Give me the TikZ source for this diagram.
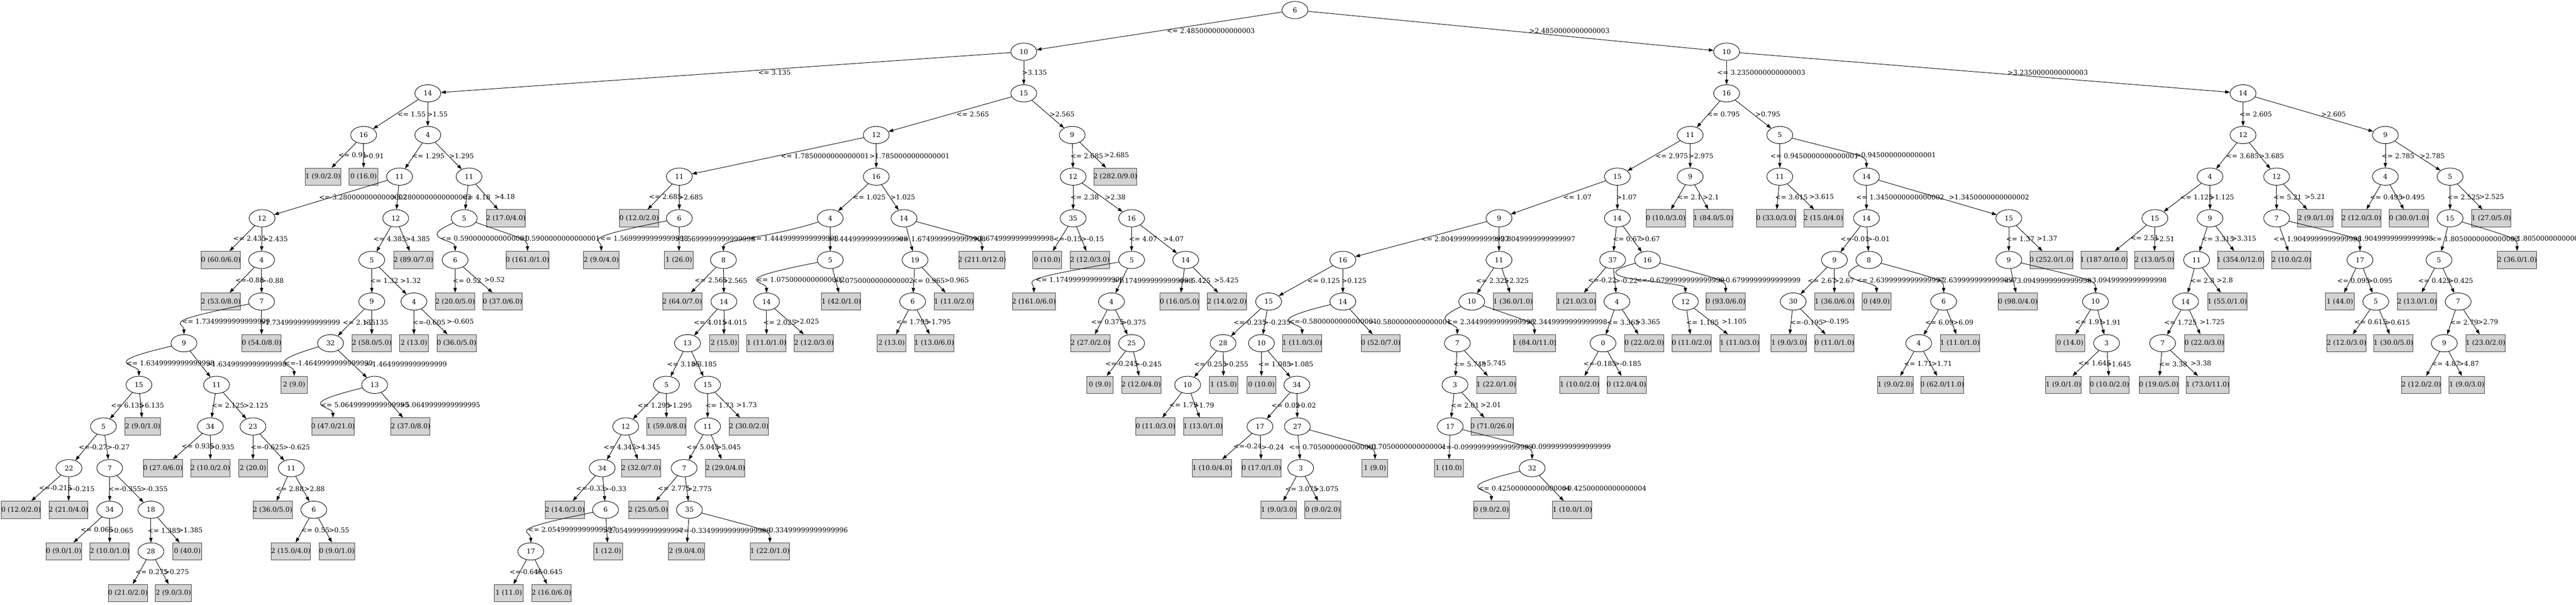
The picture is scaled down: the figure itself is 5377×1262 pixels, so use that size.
\documentclass[tikz,border=0pt]{standalone}
\usepackage{fontspec}
\setmainfont{DejaVu Serif}
\usepackage{tikz}
\usetikzlibrary{arrows.meta,shapes.geometric,calc}
\definecolor{leafgray}{HTML}{D3D3D3}
\newsavebox\leafbox
\newlength\leafwd

\begin{document}
\begin{tikzpicture}[->,>={Triangle[length=10pt,width=7pt]},line width=1pt,
                    node distance=86.9pt,x=1pt,y=-1pt,
                    every node/.style={font=\fontsize{14}{17}\selectfont},
                    swing/.style={to path={.. controls ($(\tikztostart)+(#1,43.5)$) and ($(\tikztotarget)+(0,-43.5)$) .. (\tikztotarget) \tikztonodes}}]
  \tikzstyle{split}=[ellipse,draw=black,minimum width=54pt,minimum height=36pt,inner sep=0pt]
  \tikzstyle{leaf}=[rectangle,draw=black!75,fill=leafgray,minimum width=54pt,minimum height=36pt,inner xsep=8pt,
                    execute at begin node={\begin{lrbox}{\leafbox}},
                    execute at end node={\end{lrbox}\leafwd=0.797\wd\leafbox\makebox[\leafwd][c]{\usebox\leafbox}}]
  \tikzstyle{cond}=[anchor=west,inner sep=0pt]

  \useasboundingbox (0,0) rectangle (5377,1262);

  \node[split] (r)   at (2703,21)                 {6};
  \node[split] (A)   [below of=r,   xshift=-566pt] {10};
  \node[split] (B)   [below of=r,   xshift=901pt]  {10};

  % A, left
  \node[split] (a1)  [below of=A,   xshift=-1244pt] {14};
  \node[split] (a2)  [below of=a1,  xshift=-134pt]  {16};
  \node[split] (a3)  [below of=a1]                  {4};
  \node[leaf]  (a4)  [below of=a2,  xshift=-85pt]   {1 (9.0/2.0)};
  \node[leaf]  (a5)  [below of=a2]                  {0 (16.0)};
  \node[split] (a6)  [below of=a3,  xshift=-59pt]   {11};
  \node[split] (a7)  [below of=a3,  xshift=86pt]    {11};
  \node[split] (a8)  [below of=a6,  xshift=-287pt]  {12};
  \node[split] (a9)  [below of=a6,  xshift=-8pt]    {12};
  \node[split] (a10) [below of=a7,  xshift=-10pt]   {5};
  \node[leaf]  (a11) [below of=a7,  xshift=77pt]    {2 (17.0/4.0)};
  \node[leaf]  (a12) [below of=a8,  xshift=-86pt]   {0 (60.0/6.0)};
  \node[split] (a13) [below of=a8,  xshift=-1pt]    {4};
  \node[split] (a14) [below of=a9,  xshift=-50pt]   {5};
  \node[leaf]  (a15) [below of=a9,  xshift=37pt]    {2 (89.0/7.0)};
  \node[split] (a16) [below of=a10, xshift=-19pt]   {6};
  \node[leaf]  (a17) [below of=a10, xshift=132pt]   {0 (161.0/1.0)};
  \node[leaf]  (a18) [below of=a13, xshift=-85pt]   {2 (53.0/8.0)};
  \node[split] (a19) [below of=a13]                 {7};
  \node[split] (a20) [below of=a14]                 {9};
  \node[split] (a21) [below of=a14, xshift=88pt]    {4};
  \node[leaf]  (a22) [below of=a16]                 {2 (20.0/5.0)};
  \node[leaf]  (a23) [below of=a16, xshift=99pt]    {0 (37.0/6.0)};
  \node[split] (a24) [below of=a19, xshift=-162pt]  {9};
  \node[leaf]  (a25) [below of=a19]                 {0 (54.0/8.0)};
  \node[split] (a26) [below of=a20, xshift=-86pt]   {32};
  \node[leaf]  (a27) [below of=a20]                 {2 (58.0/5.0)};
  \node[leaf]  (a28) [below of=a21]                 {2 (13.0)};
  \node[leaf]  (a29) [below of=a21, xshift=89pt]    {0 (36.0/5.0)};
  \node[split] (a30) [below of=a24, xshift=-94pt]   {15};
  \node[split] (a31) [below of=a24, xshift=68pt]    {11};
  \node[leaf]  (a32) [below of=a26, xshift=-76pt]   {2 (9.0)};
  \node[split] (a33) [below of=a26, xshift=92pt]    {13};
  \node[split] (a34) [below of=a30, xshift=-74pt]   {5};
  \node[leaf]  (a35) [below of=a30, xshift=8pt]     {2 (9.0/1.0)};
  \node[split] (a36) [below of=a31, xshift=-13pt]   {34};
  \node[split] (a37) [below of=a31, xshift=76pt]    {23};
  \node[leaf]  (a38) [below of=a33, xshift=-87pt]   {0 (47.0/21.0)};
  \node[leaf]  (a39) [below of=a33, xshift=75pt]    {2 (37.0/8.0)};
  \node[split] (a40) [below of=a34, xshift=-72pt]   {22};
  \node[split] (a41) [below of=a34, xshift=13pt]    {7};
  \node[leaf]  (a42) [below of=a36, xshift=-99pt]   {0 (27.0/6.0)};
  \node[leaf]  (a43) [below of=a36]                 {2 (10.0/2.0)};
  \node[leaf]  (a44) [below of=a37]                 {2 (20.0)};
  \node[split] (a45) [below of=a37, xshift=80pt]    {11};
  \node[leaf]  (a46) [below of=a40, xshift=-100pt]  {0 (12.0/2.0)};
  \node[leaf]  (a47) [below of=a40, xshift=-1pt]    {2 (21.0/4.0)};
  \node[split] (a48) [below of=a41]                 {34};
  \node[split] (a49) [below of=a41, xshift=86pt]    {18};
  \node[leaf]  (a50) [below of=a45, xshift=-39pt]   {2 (36.0/5.0)};
  \node[split] (a51) [below of=a45, xshift=47pt]    {6};
  \node[leaf]  (a52) [below of=a48, xshift=-96pt]   {0 (9.0/1.0)};
  \node[leaf]  (a53) [below of=a48]                 {2 (10.0/1.0)};
  \node[split] (a54) [below of=a49]                 {28};
  \node[leaf]  (a55) [below of=a49, xshift=76pt]    {0 (40.0)};
  \node[leaf]  (a56) [below of=a51, xshift=-48pt]   {2 (15.0/4.0)};
  \node[leaf]  (a57) [below of=a51, xshift=48pt]    {0 (9.0/1.0)};
  \node[leaf]  (a58) [below of=a54, xshift=-48pt]   {0 (21.0/2.0)};
  \node[leaf]  (a59) [below of=a54, xshift=47pt]    {2 (9.0/3.0)};

  % A, right
  \node[split] (b1)  [below of=A]                   {15};
  \node[split] (b2)  [below of=b1,  xshift=-308pt]  {12};
  \node[split] (b3)  [below of=b1,  xshift=101pt]   {9};
  \node[split] (b4)  [below of=b2,  xshift=-411pt]  {11};
  \node[split] (b5)  [below of=b2]                  {16};
  \node[split] (b6)  [below of=b3,  xshift=2pt]     {12};
  \node[leaf]  (b7)  [below of=b3,  xshift=90pt]    {2 (282.0/9.0)};
  \node[leaf]  (b8)  [below of=b4,  xshift=-84pt]   {0 (12.0/2.0)};
  \node[split] (b9)  [below of=b4]                  {6};
  \node[split] (b10) [below of=b5,  xshift=-96pt]   {4};
  \node[split] (b11) [below of=b5,  xshift=58pt]    {14};
  \node[split] (b12) [below of=b6]                  {35};
  \node[split] (b13) [below of=b6,  xshift=122pt]   {16};
  \node[leaf]  (b14) [below of=b9,  xshift=-163pt]  {2 (9.0/4.0)};
  \node[leaf]  (b15) [below of=b9,  xshift=-1pt]    {1 (26.0)};
  \node[split] (b16) [below of=b10, xshift=-223pt]  {8};
  \node[split] (b17) [below of=b10]                 {5};
  \node[split] (b18) [below of=b11, xshift=23pt]    {19};
  \node[leaf]  (b19) [below of=b11, xshift=163pt]   {2 (211.0/12.0)};
  \node[leaf]  (b20) [below of=b12, xshift=-54pt]   {0 (10.0)};
  \node[leaf]  (b21) [below of=b12, xshift=35pt]    {2 (12.0/3.0)};
  \node[split] (b22) [below of=b13]                 {5};
  \node[split] (b23) [below of=b13, xshift=113pt]   {14};
  \node[leaf]  (b24) [below of=b16, xshift=-86pt]   {2 (64.0/7.0)};
  \node[split] (b25) [below of=b16, xshift=1pt]     {14};
  \node[split] (b26) [below of=b17, xshift=-133pt]  {14};
  \node[leaf]  (b27) [below of=b17, xshift=23pt]    {1 (42.0/1.0)};
  \node[split] (b28) [below of=b18, xshift=-5pt]    {6};
  \node[leaf]  (b29) [below of=b18, xshift=81pt]    {1 (11.0/2.0)};
  \node[leaf]  (b30) [below of=b22, xshift=-204pt]  {2 (161.0/6.0)};
  \node[split] (b31) [below of=b22, xshift=-42pt]   {4};
  \node[leaf]  (b32) [below of=b23, xshift=-13pt]   {0 (16.0/5.0)};
  \node[leaf]  (b33) [below of=b23, xshift=86pt]    {2 (14.0/2.0)};
  \node[split] (b34) [below of=b25, xshift=-76pt]   {13};
  \node[leaf]  (b35) [below of=b25]                 {2 (15.0)};
  \node[leaf]  (b36) [below of=b26]                 {1 (11.0/1.0)};
  \node[leaf]  (b37) [below of=b26, xshift=99pt]    {2 (12.0/3.0)};
  \node[leaf]  (b38) [below of=b28, xshift=-44pt]   {2 (13.0)};
  \node[leaf]  (b39) [below of=b28, xshift=45pt]    {1 (13.0/6.0)};
  \node[leaf]  (b40) [below of=b31, xshift=-44pt]   {2 (27.0/2.0)};
  \node[split] (b41) [below of=b31, xshift=42pt]    {25};
  \node[split] (b42) [below of=b34, xshift=-44pt]   {5};
  \node[split] (b43) [below of=b34, xshift=42pt]    {15};
  \node[leaf]  (b44) [below of=b41, xshift=-66pt]   {0 (9.0)};
  \node[leaf]  (b45) [below of=b41, xshift=20pt]    {2 (12.0/4.0)};
  \node[split] (b46) [below of=b42, xshift=-85pt]   {12};
  \node[leaf]  (b47) [below of=b42]                 {1 (59.0/8.0)};
  \node[split] (b48) [below of=b43]                 {11};
  \node[leaf]  (b49) [below of=b43, xshift=86pt]    {2 (30.0/2.0)};
  \node[split] (b50) [below of=b46, xshift=-49pt]   {34};
  \node[leaf]  (b51) [below of=b46, xshift=32pt]    {2 (32.0/7.0)};
  \node[split] (b52) [below of=b48, xshift=-49pt]   {7};
  \node[leaf]  (b53) [below of=b48, xshift=37pt]    {2 (29.0/4.0)};
  \node[leaf]  (b54) [below of=b50, xshift=-78pt]   {2 (14.0/3.0)};
  \node[split] (b55) [below of=b50, xshift=7pt]     {6};
  \node[leaf]  (b56) [below of=b52, xshift=-75pt]   {2 (25.0/5.0)};
  \node[split] (b57) [below of=b52, xshift=11pt]    {35};
  \node[split] (b58) [below of=b55, xshift=-156pt]  {17};
  \node[leaf]  (b59) [below of=b55, xshift=5pt]     {1 (12.0)};
  \node[leaf]  (b60) [below of=b57, xshift=-6pt]    {2 (9.0/4.0)};
  \node[leaf]  (b61) [below of=b57, xshift=168pt]   {1 (22.0/1.0)};
  \node[leaf]  (b62) [below of=b58, xshift=-46pt]   {1 (11.0)};
  \node[leaf]  (b63) [below of=b58, xshift=43pt]    {2 (16.0/6.0)};

  % B, left
  \node[split] (c1)  [below of=B]                   {16};
  \node[split] (c2)  [below of=c1,  xshift=-76pt]   {11};
  \node[split] (c3)  [below of=c1,  xshift=111pt]   {5};
  \node[split] (c4)  [below of=c2,  xshift=-152pt]  {15};
  \node[split] (c5)  [below of=c2]                  {9};
  \node[split] (c6)  [below of=c3]                  {11};
  \node[split] (c7)  [below of=c3,  xshift=181pt]   {14};
  \node[split] (c8)  [below of=c4,  xshift=-247pt]  {9};
  \node[split] (c9)  [below of=c4]                  {14};
  \node[leaf]  (c10) [below of=c5,  xshift=-51pt]   {0 (10.0/3.0)};
  \node[leaf]  (c11) [below of=c5,  xshift=48pt]    {1 (84.0/5.0)};
  \node[leaf]  (c12) [below of=c6,  xshift=-8pt]    {0 (33.0/3.0)};
  \node[leaf]  (c13) [below of=c6,  xshift=91pt]    {2 (15.0/4.0)};
  \node[split] (c14) [below of=c7]                  {14};
  \node[split] (c15) [below of=c7,  xshift=297pt]   {15};
  \node[split] (c16) [below of=c8,  xshift=-326pt]  {16};
  \node[split] (c17) [below of=c8]                  {11};
  \node[split] (c18) [below of=c9,  xshift=-10pt]   {37};
  \node[split] (c19) [below of=c9,  xshift=63pt]    {16};
  \node[split] (c20) [below of=c14, xshift=-67pt]   {9};
  \node[split] (c21) [below of=c14, xshift=5pt]     {8};
  \node[split] (c22) [below of=c15]                 {9};
  \node[leaf]  (c23) [below of=c15, xshift=89pt]    {0 (252.0/1.0)};
  \node[split] (c24) [below of=c16, xshift=-155pt]  {15};
  \node[split] (c25) [below of=c16]                 {14};
  \node[split] (c26) [below of=c17, xshift=-57pt]   {10};
  \node[leaf]  (c27) [below of=c17, xshift=29pt]    {1 (36.0/1.0)};
  \node[leaf]  (c28) [below of=c18, xshift=-76pt]   {1 (21.0/3.0)};
  \node[split] (c29) [below of=c18, xshift=9pt]     {4};
  \node[split] (c30) [below of=c19, xshift=79pt]    {12};
  \node[leaf]  (c31) [below of=c19, xshift=163pt]   {0 (93.0/6.0)};
  \node[split] (c32) [below of=c20, xshift=-86pt]   {30};
  \node[leaf]  (c33) [below of=c20]                 {1 (36.0/6.0)};
  \node[leaf]  (c34) [below of=c21, xshift=16pt]    {0 (49.0)};
  \node[split] (c35) [below of=c21, xshift=156pt]   {6};
  \node[leaf]  (c36) [below of=c22, xshift=19pt]    {0 (98.0/4.0)};
  \node[split] (c37) [below of=c22, xshift=181pt]   {10};
  \node[split] (c38) [below of=c24, xshift=-95pt]   {28};
  \node[split] (c39) [below of=c24, xshift=-15pt]   {10};
  \node[leaf]  (c40) [below of=c25, xshift=-85pt]   {1 (11.0/3.0)};
  \node[leaf]  (c41) [below of=c25, xshift=79pt]    {0 (52.0/7.0)};
  \node[split] (c42) [below of=c26, xshift=-30pt]   {7};
  \node[leaf]  (c43) [below of=c26, xshift=131pt]   {1 (84.0/11.0)};
  \node[split] (c44) [below of=c29, xshift=-29pt]   {0};
  \node[leaf]  (c45) [below of=c29, xshift=57pt]    {0 (22.0/2.0)};
  \node[leaf]  (c46) [below of=c30, xshift=13pt]    {0 (11.0/2.0)};
  \node[leaf]  (c47) [below of=c30, xshift=113pt]   {1 (11.0/3.0)};
  \node[leaf]  (c48) [below of=c32, xshift=-9pt]    {1 (9.0/3.0)};
  \node[leaf]  (c49) [below of=c32, xshift=86pt]    {0 (11.0/1.0)};
  \node[split] (c50) [below of=c35, xshift=-52pt]   {4};
  \node[leaf]  (c51) [below of=c35, xshift=34pt]    {1 (11.0/1.0)};
  \node[leaf]  (c52) [below of=c37, xshift=-53pt]   {0 (14.0)};
  \node[split] (c53) [below of=c37, xshift=23pt]    {3};
  \node[split] (c54) [below of=c38, xshift=-74pt]   {10};
  \node[leaf]  (c55) [below of=c38, xshift=1pt]     {1 (15.0)};
  \node[leaf]  (c56) [below of=c39]                 {0 (10.0)};
  \node[split] (c57) [below of=c39, xshift=74pt]    {34};
  \node[split] (c58) [below of=c42, xshift=-5pt]    {3};
  \node[leaf]  (c59) [below of=c42, xshift=81pt]    {1 (22.0/1.0)};
  \node[leaf]  (c60) [below of=c44, xshift=-49pt]   {1 (10.0/2.0)};
  \node[leaf]  (c61) [below of=c44, xshift=49pt]    {0 (12.0/4.0)};
  \node[leaf]  (c62) [below of=c50, xshift=-49pt]   {1 (9.0/2.0)};
  \node[leaf]  (c63) [below of=c50, xshift=49pt]    {0 (62.0/11.0)};
  \node[leaf]  (c64) [below of=c53, xshift=-90pt]   {1 (9.0/1.0)};
  \node[leaf]  (c65) [below of=c53, xshift=6pt]     {0 (10.0/2.0)};
  \node[leaf]  (c66) [below of=c54, xshift=-67pt]   {0 (11.0/3.0)};
  \node[leaf]  (c67) [below of=c54, xshift=32pt]    {1 (13.0/1.0)};
  \node[split] (c68) [below of=c57, xshift=-77pt]   {17};
  \node[split] (c69) [below of=c57, xshift=1pt]     {27};
  \node[split] (c70) [below of=c58, xshift=-10pt]   {17};
  \node[leaf]  (c71) [below of=c58, xshift=78pt]    {0 (71.0/26.0)};
  \node[leaf]  (c72) [below of=c68, xshift=-100pt]  {1 (10.0/4.0)};
  \node[leaf]  (c73) [below of=c68, xshift=3pt]     {0 (17.0/1.0)};
  \node[split] (c74) [below of=c69, xshift=7pt]     {3};
  \node[leaf]  (c75) [below of=c69, xshift=162pt]   {1 (9.0)};
  \node[leaf]  (c76) [below of=c70, xshift=-3pt]    {1 (10.0)};
  \node[split] (c77) [below of=c70, xshift=171pt]   {32};
  \node[leaf]  (c78) [below of=c74, xshift=-46pt]   {1 (9.0/3.0)};
  \node[leaf]  (c79) [below of=c74, xshift=46pt]    {0 (9.0/2.0)};
  \node[leaf]  (c80) [below of=c77, xshift=-85pt]   {0 (9.0/2.0)};
  \node[leaf]  (c81) [below of=c77, xshift=84pt]    {1 (10.0/1.0)};

  % B, right
  \node[split] (d1)  [below of=B,   xshift=1078pt]  {14};
  \node[split] (d2)  [below of=d1]                  {12};
  \node[split] (d3)  [below of=d1,  xshift=297pt]   {9};
  \node[split] (d4)  [below of=d2,  xshift=-69pt]   {4};
  \node[split] (d5)  [below of=d2,  xshift=70pt]    {12};
  \node[split] (d6)  [below of=d3]                  {4};
  \node[split] (d7)  [below of=d3,  xshift=135pt]   {5};
  \node[split] (d8)  [below of=d4,  xshift=-115pt]  {15};
  \node[split] (d9)  [below of=d4]                  {9};
  \node[split] (d10) [below of=d5]                  {7};
  \node[leaf]  (d11) [below of=d5,  xshift=81pt]    {2 (9.0/1.0)};
  \node[leaf]  (d12) [below of=d6,  xshift=-50pt]   {2 (12.0/3.0)};
  \node[leaf]  (d13) [below of=d6,  xshift=49pt]    {0 (30.0/1.0)};
  \node[split] (d14) [below of=d7]                  {15};
  \node[leaf]  (d15) [below of=d7,  xshift=86pt]    {1 (27.0/5.0)};
  \node[leaf]  (d16) [below of=d8,  xshift=-106pt]  {1 (187.0/10.0)};
  \node[leaf]  (d17) [below of=d8,  xshift=-1pt]    {2 (13.0/5.0)};
  \node[split] (d18) [below of=d9,  xshift=-28pt]   {11};
  \node[leaf]  (d19) [below of=d9,  xshift=64pt]    {1 (354.0/12.0)};
  \node[leaf]  (d20) [below of=d10, xshift=31pt]    {2 (10.0/2.0)};
  \node[split] (d21) [below of=d10, xshift=174pt]   {17};
  \node[split] (d22) [below of=d14, xshift=-23pt]   {5};
  \node[leaf]  (d23) [below of=d14, xshift=140pt]   {2 (36.0/1.0)};
  \node[split] (d24) [below of=d18, xshift=-23pt]   {14};
  \node[leaf]  (d25) [below of=d18, xshift=64pt]    {1 (55.0/1.0)};
  \node[leaf]  (d26) [below of=d21, xshift=-42pt]   {1 (44.0)};
  \node[split] (d27) [below of=d21, xshift=33pt]    {5};
  \node[leaf]  (d28) [below of=d22, xshift=-46pt]   {2 (13.0/1.0)};
  \node[split] (d29) [below of=d22, xshift=40pt]    {7};
  \node[split] (d30) [below of=d24, xshift=-48pt]   {7};
  \node[leaf]  (d31) [below of=d24, xshift=39pt]    {0 (22.0/3.0)};
  \node[leaf]  (d32) [below of=d27, xshift=-61pt]   {2 (12.0/3.0)};
  \node[leaf]  (d33) [below of=d27, xshift=37pt]    {1 (30.0/5.0)};
  \node[split] (d34) [below of=d29, xshift=-29pt]   {9};
  \node[leaf]  (d35) [below of=d29, xshift=57pt]    {1 (23.0/2.0)};
  \node[leaf]  (d36) [below of=d30, xshift=-8pt]    {0 (19.0/5.0)};
  \node[leaf]  (d37) [below of=d30, xshift=94pt]    {1 (73.0/11.0)};
  \node[leaf]  (d38) [below of=d34, xshift=-48pt]   {2 (12.0/2.0)};
  \node[leaf]  (d39) [below of=d34, xshift=47pt]    {1 (9.0/3.0)};

  \path (r)   edge node[cond,xshift=15pt]  {<= 2.4850000000000003} (A)
              edge node[cond,xshift=38pt]  {>2.4850000000000003}   (B)
        (A)   edge node[cond,xshift=67pt]  {<= 3.135}              (a1)
              edge node[cond,xshift=-4pt]  {>3.135}                (b1)
        (B)   edge node[cond,xshift=-20pt] {<= 3.2350000000000003} (c1)
              edge node[cond,xshift=47pt]  {>3.2350000000000003}   (d1)
        (a1)  edge node[cond,xshift=3pt]   {<= 1.55}               (a2)
              edge node[cond,xshift=-2pt]  {>1.55}                 (a3)
        (a2)  edge node[cond,xshift=-12pt] {<= 0.91}               (a4)
              edge node[cond,xshift=-1pt]  {>0.91}                 (a5)
        (a3)  edge node[cond,xshift=-4pt]  {<= 1.295}              (a6)
              edge node[cond,xshift=1pt]   {>1.295}                (a7)
        (a6)  edge node[cond,xshift=-25pt] {<= 3.2800000000000002} (a8)
              edge node[cond,xshift=-14pt] {>3.2800000000000002}   (a9)
        (a7)  edge node[cond,xshift=-10pt] {<= 4.18}               (a10)
              edge node[cond,xshift=15pt]  {>4.18}                 (a11)
        (a8)  edge node[cond,xshift=-19pt] {<= 2.435}              (a12)
              edge node[cond,xshift=2pt]   {>2.435}                (a13)
        (a9)  edge node[cond,xshift=-22pt] {<= 4.385}              (a14)
              edge node[cond,xshift=1pt]   {>4.385}                (a15)
        (a10) edge[swing=-101] node[cond]  {<= 0.5900000000000001} (a16)
              edge[swing=123]  node[cond]  {>0.5900000000000001}   (a17)
        (a13) edge node[cond,xshift=-14pt] {<=-0.88}               (a18)
              edge node[cond,xshift=-2pt]  {>-0.88}                (a19)
        (a14) edge node[cond,xshift=-4pt]  {<= 1.32}               (a20)
              edge node[cond,xshift=15pt]  {>1.32}                 (a21)
        (a16) edge node[cond,xshift=-5pt]  {<= 0.52}               (a22)
              edge node[cond,xshift=13pt]  {>0.52}                 (a23)
        (a19) edge[swing=-219] node[cond]  {<= 1.7349999999999999} (a24)
              edge node[cond,xshift=-4pt]  {>1.7349999999999999}   (a25)
        (a20) edge node[cond,xshift=-18pt] {<= 2.135}              (a26)
              edge node[cond,xshift=-18pt] {>2.135}                (a27)
        (a21) edge node[cond,xshift=-3pt]  {<=-0.605}              (a28)
              edge node[cond,xshift=25pt]  {>-0.605}               (a29)
        (a24) edge[swing=-187] node[cond]  {<= 1.6349999999999998} (a30)
              edge node[cond,xshift=12pt]  {>1.6349999999999998}   (a31)
        (a26) edge[swing=-147] node[cond]  {<=-1.4649999999999999} (a32)
              edge node[cond,xshift=24pt]  {>-1.4649999999999999}  (a33)
        (a30) edge node[cond,xshift=-22pt] {<= 6.135}              (a34)
              edge node[cond,xshift=-4pt]  {>6.135}                (a35)
        (a31) edge node[cond,xshift=-4pt]  {<= 2.125}              (a36)
              edge node[cond,xshift=18pt]  {>2.125}                (a37)
        (a33) edge[swing=-176] node[cond]  {<= 5.0649999999999995} (a38)
              edge node[cond,xshift=16pt]  {>5.0649999999999995}   (a39)
        (a34) edge node[cond,xshift=-16pt] {<=-0.27}               (a40)
              edge node[cond]              {>-0.27}                (a41)
        (a36) edge node[cond,xshift=-13pt] {<= 0.935}              (a42)
              edge node[cond,xshift=-2pt]  {>0.935}                (a43)
        (a37) edge node[cond,xshift=-5pt]  {<=-0.625}              (a44)
              edge node[cond,xshift=22pt]  {>-0.625}               (a45)
        (a40) edge node[cond,xshift=-15pt] {<=-0.215}              (a46)
              edge node[cond,xshift=-3pt]  {>-0.215}               (a47)
        (a41) edge node[cond,xshift=-3pt]  {<=-0.355}              (a48)
              edge node[cond,xshift=21pt]  {>-0.355}               (a49)
        (a45) edge node[cond,xshift=-14pt] {<= 2.88}               (a50)
              edge node[cond,xshift=3pt]   {>2.88}                 (a51)
        (a48) edge node[cond,xshift=-15pt] {<= 0.065}              (a52)
              edge node[cond,xshift=-3pt]  {>0.065}                (a53)
        (a49) edge node[cond,xshift=-7pt]  {<= 1.385}              (a54)
              edge node[cond,xshift=19pt]  {>1.385}                (a55)
        (a51) edge node[cond,xshift=-3pt]  {<= 0.55}               (a56)
              edge node[cond,xshift=7pt]   {>0.55}                 (a57)
        (a54) edge node[cond,xshift=-9pt]  {<= 0.275}              (a58)
              edge node[cond,xshift=4pt]   {>0.275}                (a59)
        (b1)  edge node[cond,xshift=13pt]  {<= 2.565}              (b2)
              edge node[cond,xshift=3pt]   {>2.565}                (b3)
        (b2)  edge node[cond,xshift=6pt]   {<= 1.7850000000000001} (b4)
              edge node[cond,xshift=-15pt] {>1.7850000000000001}   (b5)
        (b3)  edge node[cond,xshift=-5pt]  {<= 2.685}              (b6)
              edge node[cond,xshift=23pt]  {>2.685}                (b7)
        (b4)  edge node[cond,xshift=-23pt] {<= 2.685}              (b8)
              edge node[cond,xshift=-3pt]  {>2.685}                (b9)
        (b5)  edge node[cond,xshift=-1pt]  {<= 1.025}              (b10)
              edge node[cond]              {>1.025}                (b11)
        (b6)  edge node[cond,xshift=-6pt]  {<= 2.38}               (b12)
              edge node[cond,xshift=5pt]   {>2.38}                 (b13)
        (b9)  edge[swing=-216] node[cond]  {<= 1.5699999999999998} (b14)
              edge node[cond,xshift=-9pt]  {>1.5699999999999998}   (b15)
        (b10) edge[swing=-139] node[cond]  {<= 1.4449999999999998} (b16)
              edge node[cond,xshift=-6pt]  {>1.4449999999999998}   (b17)
        (b11) edge node[cond,xshift=-25pt] {<= 1.6749999999999998} (b18)
              edge[swing=160]  node[cond]  {>1.6749999999999998}   (b19)
        (b12) edge node[cond,xshift=-15pt] {<=-0.15}               (b20)
              edge node[cond,xshift=-1pt]  {>-0.15}                (b21)
        (b13) edge node[cond,xshift=-6pt]  {<= 4.07}               (b22)
              edge node[cond,xshift=9pt]   {>4.07}                 (b23)
        (b16) edge node[cond,xshift=-19pt] {<= 2.565}              (b24)
              edge node[cond,xshift=-3pt]  {>2.565}                (b25)
        (b17) edge[swing=-224] node[cond]  {<= 1.0750000000000002} (b26)
              edge node[cond,xshift=-6pt]  {>1.0750000000000002}   (b27)
        (b18) edge node[cond,xshift=-4pt]  {<= 0.965}              (b28)
              edge node[cond,xshift=21pt]  {>0.965}                (b29)
        (b22) edge[swing=-253] node[cond]  {<= 1.1749999999999998} (b30)
              edge node[cond,xshift=-19pt] {>1.1749999999999998}   (b31)
        (b23) edge node[cond,xshift=-10pt] {<= 5.425}              (b32)
              edge node[cond,xshift=17pt]  {>5.425}                (b33)
        (b25) edge node[cond,xshift=-25pt] {<= 4.015}              (b34)
              edge node[cond,xshift=-4pt]  {>4.015}                (b35)
        (b26) edge node[cond,xshift=-7pt]  {<= 2.025}              (b36)
              edge node[cond,xshift=10pt]  {>2.025}                (b37)
        (b28) edge node[cond,xshift=-13pt] {<= 1.795}              (b38)
              edge node[cond,xshift=5pt]   {>1.795}                (b39)
        (b31) edge node[cond,xshift=-21pt] {<= 0.375}              (b40)
              edge node[cond,xshift=-1pt]  {>0.375}                (b41)
        (b34) edge node[cond,xshift=-21pt] {<= 3.185}              (b42)
              edge node[cond,xshift=-12pt] {>3.185}                (b43)
        (b41) edge node[cond,xshift=-23pt] {<=-0.245}              (b44)
              edge node[cond,xshift=-4pt]  {>-0.245}               (b45)
        (b42) edge node[cond,xshift=-18pt] {<= 1.295}              (b46)
              edge node[cond,xshift=1pt]   {>1.295}                (b47)
        (b43) edge node[cond,xshift=-5pt]  {<= 1.73}               (b48)
              edge node[cond,xshift=18pt]  {>1.73}                 (b49)
        (b46) edge node[cond,xshift=-22pt] {<= 4.345}              (b50)
              edge node[cond,xshift=4pt]   {>4.345}                (b51)
        (b48) edge node[cond,xshift=-20pt] {<= 5.045}              (b52)
              edge node[cond,xshift=-1pt]  {>5.045}                (b53)
        (b50) edge node[cond,xshift=-17pt] {<=-0.33}               (b54)
              edge node[cond,xshift=-1pt]  {>-0.33}                (b55)
        (b52) edge node[cond,xshift=-19pt] {<= 2.775}              (b56)
              edge node[cond]              {>2.775}                (b57)
        (b55) edge[swing=-216] node[cond]  {<= 2.0549999999999997} (b58)
              edge node[cond,xshift=-8pt]  {>2.0549999999999997}   (b59)
        (b57) edge node[cond,xshift=-21pt] {<=-0.33499999999999996} (b60)
              edge[swing=165]  node[cond]  {>-0.33499999999999996} (b61)
        (b58) edge node[cond,xshift=-22pt] {<=-0.645}              (b62)
              edge node[cond,xshift=-12pt] {>-0.645}               (b63)
        (c1)  edge node[cond,xshift=-3pt]  {<= 0.795}              (c2)
              edge node[cond,xshift=4pt]   {>0.795}                (c3)
        (c2)  edge node[cond,xshift=3pt]   {<= 2.975}              (c4)
              edge node[cond,xshift=-4pt]  {>2.975}                (c5)
        (c3)  edge node[cond,xshift=-20pt] {<= 0.9450000000000001} (c6)
              edge[swing=171]  node[cond]  {>0.9450000000000001}   (c7)
        (c4)  edge node[cond,xshift=10pt]  {<= 1.07}               (c8)
              edge node[cond,xshift=-3pt]  {>1.07}                 (c9)
        (c5)  edge node[cond,xshift=-2pt]  {<= 2.1}                (c10)
              edge node[cond,xshift=2pt]   {>2.1}                  (c11)
        (c6)  edge node[cond,xshift=-6pt]  {<= 3.615}              (c12)
              edge node[cond,xshift=17pt]  {>3.615}                (c13)
        (c7)  edge node[cond,xshift=-22pt] {<= 1.3450000000000002} (c14)
              edge node[cond,xshift=23pt]  {>1.3450000000000002}   (c15)
        (c8)  edge node[cond]              {<= 2.8049999999999997} (c16)
              edge node[cond,xshift=-9pt]  {>2.8049999999999997}   (c17)
        (c9)  edge node[cond,xshift=-5pt]  {<= 0.67}               (c18)
              edge node[cond,xshift=14pt]  {>0.67}                 (c19)
        (c14) edge node[cond,xshift=-21pt] {<=-0.01}               (c20)
              edge node[cond,xshift=-2pt]  {>-0.01}                (c21)
        (c15) edge node[cond,xshift=-6pt]  {<= 1.37}               (c22)
              edge node[cond,xshift=15pt]  {>1.37}                 (c23)
        (c16) edge node[cond,xshift=3pt]   {<= 0.125}              (c24)
              edge node[cond,xshift=-3pt]  {>0.125}                (c25)
        (c17) edge node[cond,xshift=-20pt] {<= 2.325}              (c26)
              edge node[cond,xshift=-5pt]  {>2.325}                (c27)
        (c18) edge node[cond,xshift=-15pt] {<=-0.22}               (c28)
              edge node[cond]              {>-0.22}                (c29)
        (c19) edge[swing=-160] node[cond]  {<=-0.6799999999999999} (c30)
              edge[swing=165]  node[cond]  {>-0.6799999999999999}  (c31)
        (c20) edge node[cond,xshift=-13pt] {<= 2.67}               (c32)
              edge node[cond,xshift=-2pt]  {>2.67}                 (c33)
        (c21) edge[swing=-85]  node[cond]  {<= 2.6399999999999997} (c34)
              edge[swing=160]  node[cond]  {>2.6399999999999997}   (c35)
        (c22) edge node[cond,xshift=-21pt] {<= 3.0949999999999998} (c36)
              edge[swing=181]  node[cond]  {>3.0949999999999998}   (c37)
        (c24) edge node[cond,xshift=-26pt] {<=-0.235}              (c38)
              edge node[cond,xshift=-4pt]  {>-0.235}               (c39)
        (c25) edge[swing=-179] node[cond]  {<=-0.5800000000000001} (c40)
              edge node[cond,xshift=15pt]  {>-0.5800000000000001}  (c41)
        (c26) edge[swing=-93]  node[cond]  {<= 2.3449999999999998} (c42)
              edge[swing=123]  node[cond]  {>2.3449999999999998}   (c43)
        (c29) edge node[cond,xshift=-7pt]  {<= 3.365}              (c44)
              edge node[cond,xshift=10pt]  {>3.365}                (c45)
        (c30) edge node[cond,xshift=-5pt]  {<= 1.105}              (c46)
              edge node[cond,xshift=22pt]  {>1.105}                (c47)
        (c32) edge node[cond,xshift=-2pt]  {<=-0.195}              (c48)
              edge node[cond,xshift=18pt]  {>-0.195}               (c49)
        (c35) edge node[cond,xshift=-13pt] {<= 6.09}               (c50)
              edge node[cond,xshift=2pt]   {>6.09}                 (c51)
        (c37) edge node[cond,xshift=-17pt] {<= 1.91}               (c52)
              edge node[cond,xshift=-2pt]  {>1.91}                 (c53)
        (c38) edge node[cond,xshift=-24pt] {<= 0.255}              (c54)
              edge node[cond]              {>0.255}                (c55)
        (c39) edge node[cond,xshift=-7pt]  {<= 1.085}              (c56)
              edge node[cond,xshift=19pt]  {>1.085}                (c57)
        (c42) edge node[cond,xshift=-6pt]  {<= 5.745}              (c58)
              edge node[cond,xshift=10pt]  {>5.745}                (c59)
        (c44) edge node[cond,xshift=-17pt] {<=-0.185}              (c60)
              edge node[cond,xshift=-1pt]  {>-0.185}               (c61)
        (c50) edge node[cond,xshift=-7pt]  {<= 1.71}               (c62)
              edge node[cond,xshift=2pt]   {>1.71}                 (c63)
        (c53) edge node[cond,xshift=-16pt] {<= 1.645}              (c64)
              edge node[cond,xshift=-4pt]  {>1.645}                (c65)
        (c54) edge node[cond,xshift=-6pt]  {<= 1.79}               (c66)
              edge node[cond,xshift=-4pt]  {>1.79}                 (c67)
        (c57) edge node[cond,xshift=-15pt] {<= 0.02}               (c68)
              edge node[cond,xshift=-4pt]  {>0.02}                 (c69)
        (c58) edge node[cond,xshift=-4pt]  {<= 2.01}               (c70)
              edge node[cond,xshift=15pt]  {>2.01}                 (c71)
        (c68) edge node[cond,xshift=-8pt]  {<=-0.24}               (c72)
              edge node[cond,xshift=1pt]   {>-0.24}                (c73)
        (c69) edge node[cond,xshift=-21pt] {<= 0.7050000000000001} (c74)
              edge[swing=157]  node[cond]  {>0.7050000000000001}   (c75)
        (c70) edge node[cond,xshift=-19pt] {<=-0.09999999999999999} (c76)
              edge[swing=173]  node[cond]  {>-0.09999999999999999} (c77)
        (c74) edge node[cond,xshift=-10pt] {<= 3.075}              (c78)
              edge node[cond,xshift=4pt]   {>3.075}                (c79)
        (c77) edge[swing=-179] node[cond]  {<= 0.42500000000000004} (c80)
              edge node[cond,xshift=21pt]  {>0.42500000000000004}  (c81)
        (d1)  edge node[cond,xshift=-8pt]  {<= 2.605}              (d2)
              edge node[cond,xshift=14pt]  {>2.605}                (d3)
        (d2)  edge node[cond,xshift=-1pt]  {<= 3.685}              (d4)
              edge node[cond,xshift=-2pt]  {>3.685}                (d5)
        (d3)  edge node[cond,xshift=-8pt]  {<= 2.785}              (d6)
              edge node[cond,xshift=4pt]   {>2.785}                (d7)
        (d4)  edge node[cond,xshift=-5pt]  {<= 1.125}              (d8)
              edge node[cond,xshift=-2pt]  {>1.125}                (d9)
        (d5)  edge node[cond,xshift=-7pt]  {<= 5.21}               (d10)
              edge node[cond,xshift=19pt]  {>5.21}                 (d11)
        (d6)  edge node[cond,xshift=-8pt]  {<= 0.495}              (d12)
              edge node[cond,xshift=6pt]   {>0.495}                (d13)
        (d7)  edge node[cond,xshift=-6pt]  {<= 2.525}              (d14)
              edge node[cond,xshift=19pt]  {>2.525}                (d15)
        (d8)  edge node[cond,xshift=-1pt]  {<= 2.51}               (d16)
              edge node[cond,xshift=-2pt]  {>2.51}                 (d17)
        (d9)  edge node[cond,xshift=-4pt]  {<= 3.315}              (d18)
              edge node[cond,xshift=13pt]  {>3.315}                (d19)
        (d10) edge node[cond,xshift=-22pt] {<= 1.9049999999999998} (d20)
              edge[swing=181]  node[cond]  {>1.9049999999999998}   (d21)
        (d14) edge node[cond,xshift=-29pt] {<= 1.8050000000000002} (d22)
              edge[swing=144]  node[cond]  {>1.8050000000000002}   (d23)
        (d18) edge node[cond,xshift=-2pt]  {<= 2.8}                (d24)
              edge node[cond,xshift=10pt]  {>2.8}                  (d25)
        (d21) edge node[cond,xshift=-27pt] {<= 0.095}              (d26)
              edge node[cond,xshift=-1pt]  {>0.095}                (d27)
        (d22) edge node[cond,xshift=-21pt] {<= 0.425}              (d28)
              edge node[cond,xshift=-1pt]  {>0.425}                (d29)
        (d24) edge node[cond,xshift=-21pt] {<= 1.725}              (d30)
              edge node[cond,xshift=10pt]  {>1.725}                (d31)
        (d27) edge node[cond,xshift=-15pt] {<= 0.615}              (d32)
              edge node[cond,xshift=1pt]   {>0.615}                (d33)
        (d29) edge node[cond,xshift=-3pt]  {<= 2.79}               (d34)
              edge node[cond,xshift=12pt]  {>2.79}                 (d35)
        (d30) edge node[cond,xshift=-4pt]  {<= 3.38}               (d36)
              edge node[cond,xshift=13pt]  {>3.38}                 (d37)
        (d34) edge node[cond,xshift=-3pt]  {<= 4.87}               (d38)
              edge node[cond,xshift=6pt]   {>4.87}                 (d39);
\end{tikzpicture}
\end{document}
